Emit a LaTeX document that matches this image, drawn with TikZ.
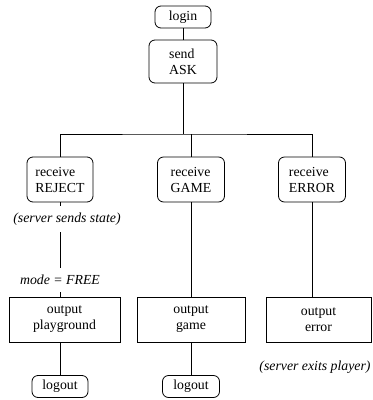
\documentclass[tikz,border=0pt]{standalone}
\usepackage{fontspec}
\setmainfont{Liberation Serif}
\usetikzlibrary{positioning}

\begin{document}
\begin{tikzpicture}[x=1pt,y=-1pt,on grid,line width=0.8pt,
    font=\fontsize{13.8}{16}\selectfont,
    rstate/.style={draw,rounded corners=6pt,align=left,minimum width=66pt,minimum height=45pt,inner sep=2pt},
    ends/.style={draw,rounded corners=6pt,minimum width=56pt,minimum height=22pt,inner sep=1pt},
    outbox/.style={draw,align=center,minimum height=45pt,inner sep=2pt},
    note/.style={font=\fontsize{13.8}{16}\selectfont\itshape,inner sep=1pt}]

   \useasboundingbox (0,0) rectangle (373,400);

   \node[ends] (login) at (183,17) {login};
   \node[rstate,minimum width=68pt,minimum height=43pt] (ask) [below=44.5pt of login] {send\\ASK};
   \coordinate (fork) at (183,134);

   \node[rstate] (reject) at (60,179.5) {receive\\REJECT};
   \node[rstate,minimum width=67pt] (game) [right=131pt of reject] {receive\\GAME};
   \node[rstate,minimum width=67pt] (error) [right=121pt of game] {receive\\ERROR};

   \node[outbox,minimum width=111pt] (play) at (64.5,319.5) {output\\playground};
   \node[outbox,minimum width=108pt] (outgame) [below=140pt of game] {output\\game};
   \node[outbox,minimum width=105pt] (outerr) at (318.5,319.5) {output\\error};

   \node[ends] (logout1) at (60,386.5) {logout};
   \node[ends,minimum width=57pt] (logout2) [below=67pt of outgame] {logout};

   \path[draw]
    (login) -- (ask)
    (ask) -- (fork)
    (reject) |- (fork) -| (error)
    (game) -- (game |- fork)
    (reject) -- (reject |- play.north)
    (error) -- (error |- outerr.north)
    (game) -- (outgame)
    (logout1) -- (logout1 |- play.south)
    (outgame) -- (logout2);

   % remarks on the lines
   \node[note,fill=white,inner ysep=7pt] (sends) at (67,219) {(server sends state)};
   \node[note,fill=white,inner ysep=7pt] (mode) at (60,280) {\textit{mode} = \textit{FREE}};
   \node[note] (exits) at (315,367) {(server exits player)};

\end{tikzpicture}
\end{document}
